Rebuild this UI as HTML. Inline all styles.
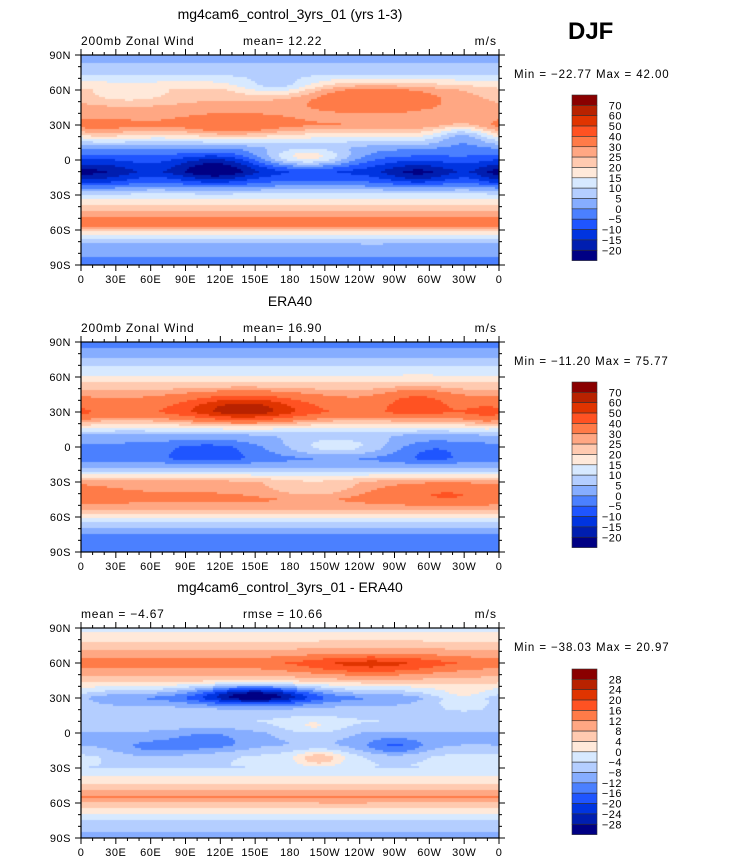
<!DOCTYPE html>
<html><head><meta charset="utf-8">
<style>
body{margin:0;background:#fff;width:732px;height:865px;position:relative;overflow:hidden;font-family:"Liberation Sans",sans-serif;}
svg{position:absolute;left:0;top:0}
canvas{position:absolute}
</style></head>
<body>
<canvas id="c0" width="418" height="210" style="left:81px;top:55px"></canvas>
<canvas id="c1" width="418" height="210" style="left:81px;top:342px"></canvas>
<canvas id="c2" width="418" height="210" style="left:81px;top:628px"></canvas>
<svg id="s" width="732" height="865"></svg>
<script>
// ---- data ----
const lonTicks=["0","30E","60E","90E","120E","150E","180","150W","120W","90W","60W","30W","0"];
const latTicks=["90N","60N","30N","0","30S","60S","90S"];
const levelsAbs=[70,60,50,40,30,25,20,15,10,5,0,-5,-10,-15,-20];
const levelsDiff=[28,24,20,16,12,8,4,0,-4,-8,-12,-16,-20,-24,-28];
const palette=["#8a0000","#b82200","#e03400","#ff5222","#ff7b48","#ffa783","#ffcab0","#ffe9da","#d7e9ff","#b4ceff","#86adff","#4b80ff","#1f55ff","#0034e0","#001eb0","#000084"];
const profLats=[90,75,60,45,30,20,10,0,-10,-20,-30,-45,-55,-65,-75,-90];
const profModel=[2,8,22,27,30,16,1,-7,-12,-3,12,27,34,12,2,-2];
const profEra=[-4,6,16,28,37,20,4,-2,-3,8,27,32,24,8,0,-3];
const profDiff=[-2,6,14,6,-12,-6,-4,-8,-8,-3,-4,5,13,3,-4,-10];
// blobs: lon, lat, amplitude, lon-width, lat-width
const blobsModel=[[115,-8,-14,25,9],[20,-12,-8,20,9],[290,-12,-10,22,7],[355,-12,-6,12,7],[195,2,22,28,6],[130,28,9,30,7],[250,55,12,50,8],[330,22,-14,18,7],[170,62,-12,25,6],[40,55,-6,30,6],[10,25,6,25,6]];
const blobsEra=[[140,33,32,35,8],[290,38,14,20,8],[350,28,8,15,8],[220,0,14,35,6],[110,-5,-6,25,8],[200,-35,-8,30,7],[315,-40,10,40,6],[300,-5,-4,20,8]];
const blobsDiff=[[150,33,-22,35,6],[270,-12,-9,20,6],[205,-22,10,15,5],[250,58,8,45,7],[110,-8,-6,25,8],[330,30,10,25,6],[60,-15,-6,25,7],[200,5,6,20,5]];

function prof(lats,vals,lat){for(let i=0;i<lats.length-1;i++){if(lat<=lats[i]&&lat>=lats[i+1]){const t=(lats[i]-lat)/(lats[i]-lats[i+1]);return vals[i]+(vals[i+1]-vals[i])*t;}}return vals[vals.length-1];}
function field(vals,blobs,lon,lat){let v=prof(profLats,vals,lat);for(const b of blobs){let dl=lon-b[0];if(dl>180)dl-=360;if(dl<-180)dl+=360;v+=b[2]*Math.exp(-(dl*dl)/(2*b[3]*b[3])-((lat-b[1])**2)/(2*b[4]*b[4]));}return v;}
function colorFor(v,levels){for(let i=0;i<levels.length;i++){if(v>=levels[i])return palette[i];}return palette[palette.length-1];}
function drawMap(id,vals,blobs,levels){const cv=document.getElementById(id),ctx=cv.getContext('2d');const W=418,H=210,cs=2;
 for(let y=0;y<H;y+=cs)for(let x=0;x<W;x+=cs){const lon=(x+1)/W*360,lat=90-(y+1)/H*180;ctx.fillStyle=colorFor(field(vals,blobs,lon,lat),levels);ctx.fillRect(x,y,cs,cs);}}
drawMap('c0',profModel,blobsModel,levelsAbs);
drawMap('c1',profEra,blobsEra,levelsAbs);
drawMap('c2',profDiff,blobsDiff,levelsDiff);

const s=document.getElementById('s');const NS='http://www.w3.org/2000/svg';
function el(tag,attrs,txt){const e=document.createElementNS(NS,tag);for(const k in attrs)e.setAttribute(k,attrs[k]);if(txt!==undefined)e.textContent=txt;s.appendChild(e);return e;}
function txt(x,y,t,size,anchor,name,weight,ls){const e=el('text',{x:x,y:y,'font-size':size,'text-anchor':anchor||'start','font-family':'Liberation Sans, sans-serif','font-weight':weight||'normal',fill:'#000','letter-spacing':ls||0,'xml:space':'preserve'},t);

return e;}

const panels=[
 {top:55,title:"mg4cam6_control_3yrs_01 (yrs 1-3)",l:"200mb  Zonal  Wind",m:"mean=   12.22",mx:243,mm:"Min = \u221222.77  Max =   42.00",cb:95,lev:levelsAbs},
 {top:342,title:"ERA40",l:"200mb  Zonal  Wind",m:"mean=   16.90",mx:243,mm:"Min = \u221211.20  Max =   75.77",cb:382,lev:levelsAbs},
 {top:628,title:"mg4cam6_control_3yrs_01 - ERA40",l:"mean =   \u22124.67",m:"rmse =   10.66",mx:243,mm:"Min = \u221238.03  Max =   20.97",cb:669,lev:levelsDiff}];
const L=81,R=499,W=418,H=210;
panels.forEach((p,pi)=>{
 txt(290,p.top-36,p.title,14,'middle','panel-title');
 txt(L,p.top-10,p.l,12,'start','panel-left-label',null,0.8);
 txt(p.mx,p.top-10,p.m,12,'start','panel-stat-label',null,0.8);
 txt(R-2,p.top-10,"m/s",12,'end','units-label',null,1);
 txt(514,p.top+23,p.mm,11.5,'start','min-max-label',null,0.9);
 const f=el('rect',{x:L,y:p.top,width:W,height:H,fill:'none',stroke:'#000','stroke-width':1.2});
 
 for(let i=0;i<=36;i++){const x=L+W*i/36,major=i%3==0,len=major?6:3;
  el('line',{x1:x,y1:p.top,x2:x,y2:p.top-len,stroke:'#000'});
  el('line',{x1:x,y1:p.top+H,x2:x,y2:p.top+H+len,stroke:'#000'});}
 lonTicks.forEach((t,i)=>{txt(L+W*i/12,p.top+H+18,t,11,'middle','lon-tick-label',null,0.5);});
 for(let i=0;i<=18;i++){const y=p.top+H*i/18,major=i%3==0,len=major?6:3;
  el('line',{x1:L,y1:y,x2:L-len,y2:y,stroke:'#000'});
  el('line',{x1:R,y1:y,x2:R+len,y2:y,stroke:'#000'});}
 latTicks.forEach((t,i)=>{txt(L-10,p.top+H*i/6+4,t,11,'end','lat-tick-label',null,0.5);});
 const bh=10.35,cx=572,cw=25;
 palette.forEach((c,i)=>{const r=el('rect',{x:cx,y:p.cb+i*bh,width:cw,height:bh,fill:c,stroke:'#333','stroke-width':0.6});
  });
 p.lev.forEach((v,i)=>{txt(622,p.cb+(i+1)*bh+4,String(v).replace('-','\u2212'),11,'end','colorbar-label',null,0.5);});
});
txt(568,39,"DJF",24,'start','season-label','bold');
</script>
</body></html>
